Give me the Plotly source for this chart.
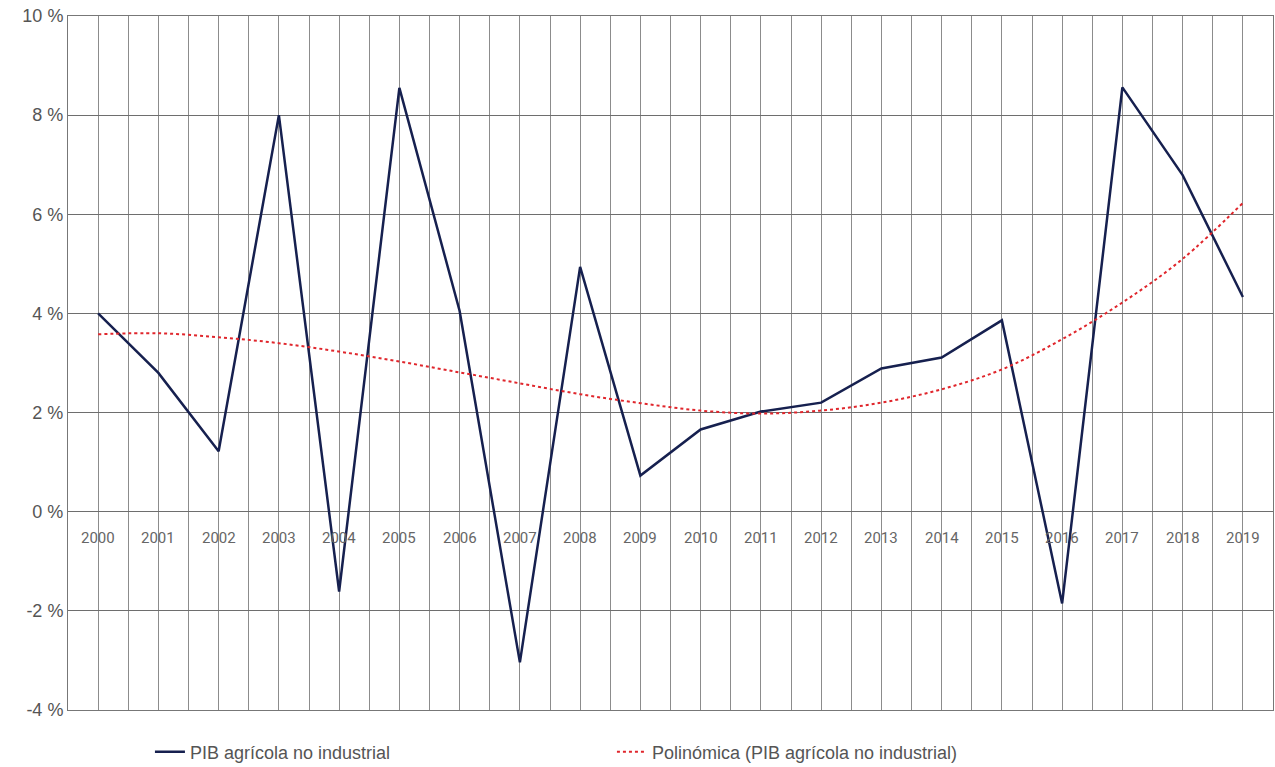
import plotly.graph_objects as go

years = [str(y) for y in range(2000, 2020)]
pib = [4.0, 2.8, 1.22, 8.0, -1.61, 8.55, 4.05, -3.04, 4.94, 0.73,
       1.66, 2.02, 2.2, 2.89, 3.11, 3.86, -1.85, 8.56, 6.79, 4.33]
trend = [3.58, 3.6, 3.52, 3.4, 3.23, 3.03, 2.81, 2.59, 2.37, 2.19,
         2.04, 1.98, 2.04, 2.2, 2.47, 2.87, 3.48, 4.22, 5.1, 6.23]
y_ticks = [-4, -2, 0, 2, 4, 6, 8, 10]
y_labels = [f"{v} %" for v in y_ticks]

xs = list(range(len(years)))

fig = go.Figure()
fig.add_trace(go.Scatter(x=xs, y=pib, mode="lines", name="PIB agrícola no industrial",
                         line=dict(color="#16204f", width=2.5)))
fig.add_trace(go.Scatter(x=xs, y=trend, mode="lines", name="Polinómica (PIB agrícola no industrial)",
                         line=dict(color="#e0262c", width=2, dash="dot", shape="spline")))

for i, yr in enumerate(years):
    fig.add_annotation(x=i, y=0, xref="x", yref="y", text=yr, showarrow=False,
                       yshift=-26, font=dict(family="Roboto", size=15, color="#666666"))

half = [i * 0.5 - 0.5 for i in range(2 * len(years) + 1)]
fig.update_xaxes(range=[-0.5, len(years) - 0.5], tickvals=half, showticklabels=False,
                 showgrid=True, gridcolor="#8c8c8c", gridwidth=1.3, zeroline=False,
                 showline=True, linecolor="#777777", linewidth=1, mirror=True, ticks="",
                 automargin=False)
fig.update_yaxes(range=[-4, 10], tickvals=y_ticks, ticktext=y_labels,
                 showgrid=True, gridcolor="#6e6e6e", gridwidth=1.2, zeroline=False,
                 showline=True, linecolor="#777777", linewidth=1, mirror=True,
                 tickfont=dict(family="Arial, Liberation Sans", size=18, color="#555555"),
                 ticks="", ticklen=0, automargin=False)

fig.update_layout(
    width=1275, height=767,
    margin=dict(l=68, r=2, t=16, b=57),
    paper_bgcolor="white", plot_bgcolor="white",
    showlegend=True,
    legend=dict(orientation="h", xref="container", yref="container",
                x=0.1176, y=0.0196, xanchor="left", yanchor="middle",
                entrywidth=417, entrywidthmode="pixels",
                font=dict(family="Arial, Liberation Sans", size=18, color="#555555")),
)

fig.write_html("out.html", config={"displayModeBar": False},
               post_script="document.body.style.margin='0px';")
